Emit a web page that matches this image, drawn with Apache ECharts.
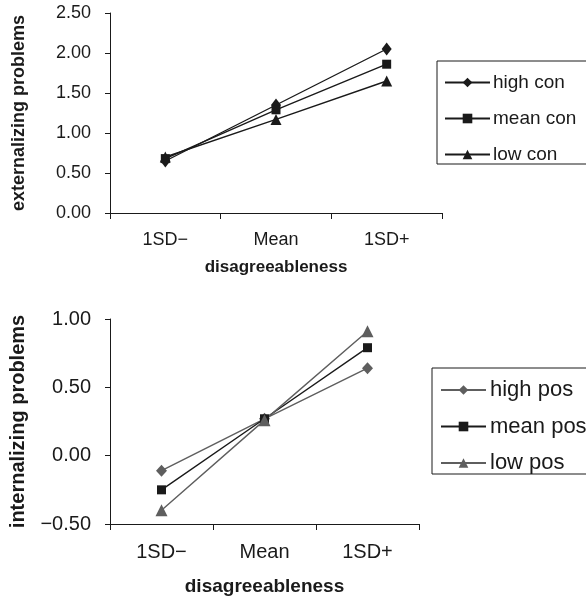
<!DOCTYPE html>
<html>
<head>
<meta charset="utf-8">
<script src="https://cdn.jsdelivr.net/npm/echarts@6/dist/echarts.min.js"></script>
<style>
  html, body { margin: 0; padding: 0; background: #fff; }
  #chart { width: 586px; height: 599px; }
</style>
</head>
<body>
<div id="chart"></div>
<script>
// categories on x
var levels = ['1SD\u2212', 'Mean', '1SD+'];

// top panel: externalizing problems
var extNames = ['high con', 'mean con', 'low con'];
var extHigh = [0.65, 1.35, 2.05];
var extMean = [0.68, 1.29, 1.86];
var extLow = [0.70, 1.17, 1.65];

// bottom panel: internalizing problems
var intNames = ['high pos', 'mean pos', 'low pos'];
var intHigh = [-0.11, 0.27, 0.64];
var intMean = [-0.25, 0.27, 0.79];
var intLow = [-0.40, 0.26, 0.91];

var ink = '#1a1a1a';
var grey = '#5e5e5e';
var font = 'Liberation Sans, Arial, sans-serif';

function fmt(v) {
  return v < 0 ? '\u2212' + Math.abs(v).toFixed(2) : v.toFixed(2);
}

function xAxisFor(idx, size, gap) {
  return {
    type: 'category', gridIndex: idx, data: levels, boundaryGap: true,
    axisLine: { onZero: false, lineStyle: { color: ink, width: 1 } },
    axisTick: { show: true, length: 6, lineStyle: { color: ink } },
    axisLabel: { color: ink, fontSize: size, fontFamily: font, margin: 18 },
    name: 'disagreeableness', nameLocation: 'middle', nameGap: gap,
    nameTextStyle: { color: ink, fontSize: size - 1, fontWeight: 'bold', fontFamily: font }
  };
}

function yAxisFor(idx, min, max, size, title, gap) {
  return {
    type: 'value', gridIndex: idx, min: min, max: max, interval: 0.5,
    splitLine: { show: false },
    axisLine: { show: true, onZero: false, lineStyle: { color: ink, width: 1 } },
    axisTick: { show: true, length: 5, lineStyle: { color: ink } },
    axisLabel: { color: ink, fontSize: size, fontFamily: font, margin: 19, formatter: fmt },
    name: title, nameLocation: 'middle', nameGap: gap, nameRotate: 90,
    nameTextStyle: { color: ink, fontSize: size, fontWeight: 'bold', fontFamily: font }
  };
}

function line(name, data, idx, symbol, size, color) {
  return {
    name: name, type: 'line', data: data, xAxisIndex: idx, yAxisIndex: idx,
    symbol: symbol, symbolSize: size, showSymbol: true,
    lineStyle: { color: color, width: 1.4 },
    itemStyle: { color: color },
    animation: false
  };
}

var chart = echarts.init(document.getElementById('chart'));
chart.setOption({
  backgroundColor: '#fff',
  grid: [
    { left: 110, right: 144, top: 13, bottom: 386 },
    { left: 110, right: 167, top: 319, bottom: 75 }
  ],
  legend: [
    {
      data: extNames, orient: 'vertical', left: 437, top: 61,
      itemWidth: 45, itemHeight: 12, itemGap: 17,
      padding: [12, 60, 0, 7],
      borderColor: ink, borderWidth: 1,
      textStyle: { color: ink, fontSize: 19, fontFamily: font, padding: [0, 0, 0, -2] }
    },
    {
      data: intNames, orient: 'vertical', left: 432, top: 368,
      itemWidth: 45, itemHeight: 12, itemGap: 14.5,
      padding: [11, 60, 0, 8],
      borderColor: ink, borderWidth: 1,
      textStyle: { color: ink, fontSize: 22, fontFamily: font, padding: [0, 0, 0, -1] }
    }
  ],
  xAxis: [xAxisFor(0, 18, 46), xAxisFor(1, 20, 53)],
  yAxis: [
    yAxisFor(0, 0, 2.5, 18, 'externalizing problems', 82),
    yAxisFor(1, -0.5, 1, 20, 'internalizing problems', 82)
  ],
  series: [
    line('high con', extHigh, 0, 'diamond', [10, 13], ink),
    line('mean con', extMean, 0, 'rect', 9, ink),
    line('low con', extLow, 0, 'triangle', 11, ink),
    line('high pos', intHigh, 1, 'diamond', [11, 12], grey),
    line('mean pos', intMean, 1, 'rect', 9, ink),
    line('low pos', intLow, 1, 'triangle', 12, grey)
  ]
});
</script>
</body>
</html>
